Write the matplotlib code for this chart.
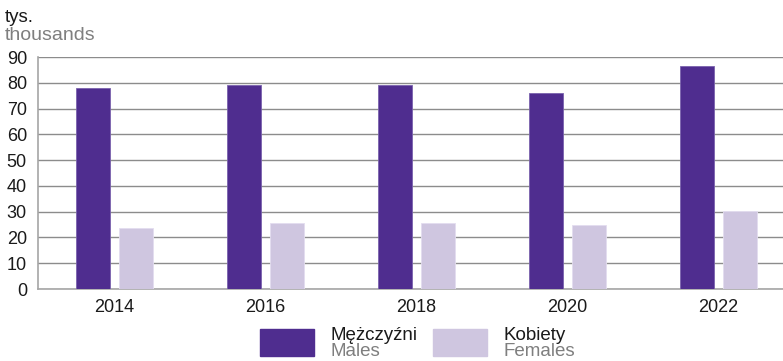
import numpy as np
import matplotlib.pyplot as plt
from matplotlib.patches import Rectangle

plt.rcParams['font.family'] = ['Liberation Sans', 'DejaVu Sans']

years = ['2014', '2016', '2018', '2020', '2022']
males = [78.1, 79.1, 79.1, 75.9, 86.5]
females = [23.5, 25.6, 25.7, 24.8, 30.4]

MALE_COLOR = '#4f2d8f'
FEMALE_COLOR = '#cfc6e0'
GRID_COLOR = '#8c8c8c'
SUB_COLOR = '#7f7f7f'

fig = plt.figure(figsize=(7.83, 3.61), dpi=100)
ax = fig.add_axes([38/783, 1-289/361, 1-38/783, (289-57)/361])

x = np.arange(len(years))
w = 0.225
ax.bar(x - 0.1425, males, w, color=MALE_COLOR, edgecolor='#7a62ad', linewidth=0.6, zorder=3)
ax.bar(x + 0.1425, females, w, color=FEMALE_COLOR, edgecolor='#e3ddef', linewidth=0.6, zorder=3)

ax.set_xlim(-0.504, 4.43)
ax.set_ylim(0, 90)
ax.set_yticks(np.arange(0, 91, 10))
ax.set_xticks(x)
ax.set_xticklabels(years)
ax.tick_params(axis='both', length=0, labelsize=13, colors='#1a1a1a')
ax.tick_params(axis='y', pad=8)
ax.tick_params(axis='x', pad=7)
ax.yaxis.grid(True, color=GRID_COLOR, linewidth=1.0, zorder=0)
ax.set_axisbelow(True)
for s in ['top', 'right']:
    ax.spines[s].set_visible(False)
for s in ['left', 'bottom']:
    ax.spines[s].set_color('#a6a6a6')
    ax.spines[s].set_linewidth(1.2)

# unit label
fig.text(5/783, 1-17/361, 'tys.', fontsize=13.5, color='#1a1a1a', va='center', ha='left')
fig.text(5/783, 1-35/361, 'thousands', fontsize=14, color=SUB_COLOR, va='center', ha='left')

# legend
def legend_item(x0, color, top, bottom):
    fig.patches.append(Rectangle((x0/783, 1-356/361), 54/783, 27/361,
                                 transform=fig.transFigure, color=color))
    fig.text((x0+70)/783, 1-336/361, top, fontsize=13.5, color='#1a1a1a', va='center', ha='left')
    fig.text((x0+70)/783, 1-352/361, bottom, fontsize=13.5, color=SUB_COLOR, va='center', ha='left')

legend_item(260, MALE_COLOR, 'Mężczyźni', 'Males')
legend_item(433, FEMALE_COLOR, 'Kobiety', 'Females')

fig.savefig('out.png', dpi=100)
